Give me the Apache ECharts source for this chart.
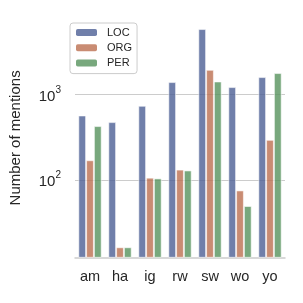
<!DOCTYPE html>
<html>
<head>
<meta charset="utf-8">
<script src="https://cdn.jsdelivr.net/npm/echarts@6/dist/echarts.min.js"></script>
<style>html,body{margin:0;padding:0;background:#fff}#c{width:303px;height:303px}</style>
</head>
<body>
<div id="c"></div>
<script>
const categories = ['am', 'ha', 'ig', 'rw', 'sw', 'wo', 'yo'];
const LOC = [569, 476, 738, 1395, 5800, 1220, 1596];
const ORG = [171, 16.5, 107, 133, 1940, 76, 296];
const PER = [428, 16.5, 105, 130, 1418, 50, 1778];
const seriesNames = ['LOC', 'ORG', 'PER'];
const yTickValues = [100, 1000];

const colors = ['rgba(76,95,149,0.8)', 'rgba(187,111,80,0.8)', 'rgba(86,146,92,0.8)'];
const font = 'Liberation Sans, Arial, sans-serif';
const chart = echarts.init(document.getElementById('c'), null, {renderer: 'canvas'});
const dataSets = [LOC, ORG, PER];
chart.setOption({
  animation: false,
  textStyle: {fontFamily: font},
  grid: {left: 65, right: 18, top: 18.5, bottom: 45.7},
  legend: {
    left: 70, top: 23, orient: 'vertical',
    data: seriesNames,
    itemWidth: 21, itemHeight: 7, itemGap: 4.3,
    padding: [4, 5, 5, 6],
    borderColor: '#cccccc', borderWidth: 1, borderRadius: 3,
    backgroundColor: 'rgba(255,255,255,0.8)',
    textStyle: {fontSize: 11, lineHeight: 11, color: '#262626', fontFamily: font, padding: [0, 0, 0, 5]},
    itemStyle: {borderWidth: 0}
  },
  xAxis: {
    type: 'category', data: categories,
    axisTick: {show: false},
    axisLine: {lineStyle: {color: '#cccccc', width: 1.5}},
    axisLabel: {fontSize: 14.5, color: '#262626', margin: 12, fontFamily: font}
  },
  yAxis: {
    type: 'log', logBase: 10, min: 12.6, max: 7700,
    name: 'Number of mentions', nameLocation: 'middle', nameGap: 52,
    nameTextStyle: {fontSize: 15, color: '#262626', fontFamily: font},
    axisLine: {show: false}, axisTick: {show: false},
    splitLine: {show: true, showMinLine: false, showMaxLine: false, lineStyle: {color: '#cccccc', width: 1.2}},
    axisLabel: {
      showMinLabel: false, showMaxLabel: false, margin: 14,
      formatter: function (v) {
        for (const t of yTickValues) {
          if (Math.abs(v - t) / t < 1e-6) {
            return '{b|10}{s|' + Math.round(Math.log10(t)) + '}';
          }
        }
        return '';
      },
      rich: {
        b: {fontSize: 15, color: '#262626', fontFamily: font, verticalAlign: 'bottom'},
        s: {fontSize: 10, color: '#262626', fontFamily: font, verticalAlign: 'bottom', padding: [0, 0, 9, 0]}
      }
    }
  },
  series: dataSets.map((d, i) => ({
    name: seriesNames[i], type: 'bar', data: d,
    barGap: '0%', barCategoryGap: '22%',
    itemStyle: {color: colors[i], borderColor: 'rgba(255,255,255,0.55)', borderWidth: 1}
  }))
});
</script>
</body>
</html>
